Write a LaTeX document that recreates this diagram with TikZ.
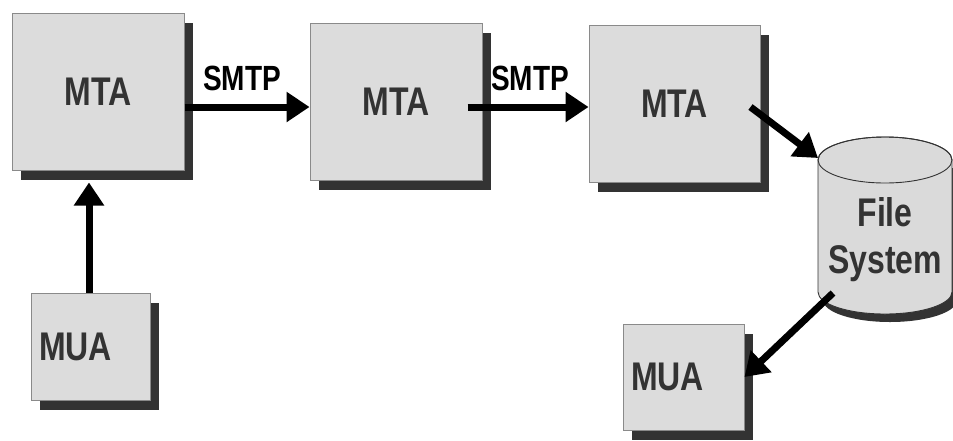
\documentclass[tikz,border=0pt]{standalone}
\usepackage{fontspec}
\setmainfont{Liberation Sans}[FakeStretch=0.8]
\usetikzlibrary{arrows.meta,shadows}
\definecolor{boxfill}{HTML}{DCDCDC}
\definecolor{boxline}{HTML}{8A8A8A}
\definecolor{shadowgray}{HTML}{333333}
\definecolor{ink}{HTML}{333333}
\begin{document}
\begin{tikzpicture}[x=1pt,y=-1pt,
  box/.style={rectangle,draw=boxline,line width=1pt,fill=boxfill,inner sep=0pt,
    font=\fontsize{40}{44}\selectfont\bfseries,text=ink,
    drop shadow={shadow xshift=9pt,shadow yshift=-10pt,fill=shadowgray,opacity=1}},
  uabox/.style={box,inner xsep=8pt,align=left},
  proto/.style={font=\fontsize{35}{40}\selectfont\bfseries,text=black,inner sep=0pt},
  arr/.style={line width=7pt,-{Triangle[length=23pt,width=29pt]}}]
\useasboundingbox (0,0) rectangle (953,440);
\fill[white] (0,0) rectangle (953,440);

% message transfer agents
\node[box,minimum width=172pt,minimum height=157pt] (m1) at (98,91.5) {MTA};
\node[box,minimum width=172pt,minimum height=157pt] (m2) at (396,101.5) {MTA};
\node[box,minimum width=171pt,minimum height=157pt] (m3) at (674.5,103.5) {MTA};

% user agents
\node[uabox,text width=103pt,minimum height=107pt] (u1) at (90.5,346.5) {MUA};
\node[uabox,text width=105pt,minimum height=106pt] (u2) at (683.5,377) {MUA};

% file system store (cylinder); y axis points down, so arcs run the other way
\begin{scope}[shift={(5,8)}]
  \fill[shadowgray] (818,160) -- (818,292) arc[start angle=180,end angle=0,x radius=67,y radius=22]
    -- (952,160) -- cycle;
\end{scope}
\filldraw[fill=boxfill!105!white,draw=ink,line width=0.9pt]
  (818,160) -- (818,292) arc[start angle=180,end angle=0,x radius=67,y radius=22]
  -- (952,160) arc[start angle=0,end angle=-180,x radius=67,y radius=23] -- cycle;
\draw[ink,line width=0.9pt] (885,160) ellipse[x radius=67,y radius=23];
\node[font=\fontsize{40}{47}\selectfont\bfseries,text=ink,align=center,inner sep=0pt]
  (fs) at (885,240) {File\\System};
\coordinate (fsin) at (818,158);
\coordinate (fsout) at (833,293);

% protocol labels
\node[proto] (s1) at (242,78) {SMTP};
\node[proto] (s2) at (530,78) {SMTP};

% connectors
\draw[arr] ([yshift=-15.5pt]m1.east) -- ([yshift=-5.5pt]m2.west);
\draw[arr] ([xshift=-15pt,yshift=-5.5pt]m2.east) -- ([yshift=-3.5pt]m3.west);
\draw[arr] ([xshift=-10pt,yshift=-3.5pt]m3.east) -- (fsin);
\draw[arr] (fsout) -- (u2.east);
\draw[arr] ([xshift=-1.5pt]u1.north) -- ([xshift=-9pt,yshift=-12pt]m1.south);
\end{tikzpicture}
\end{document}
